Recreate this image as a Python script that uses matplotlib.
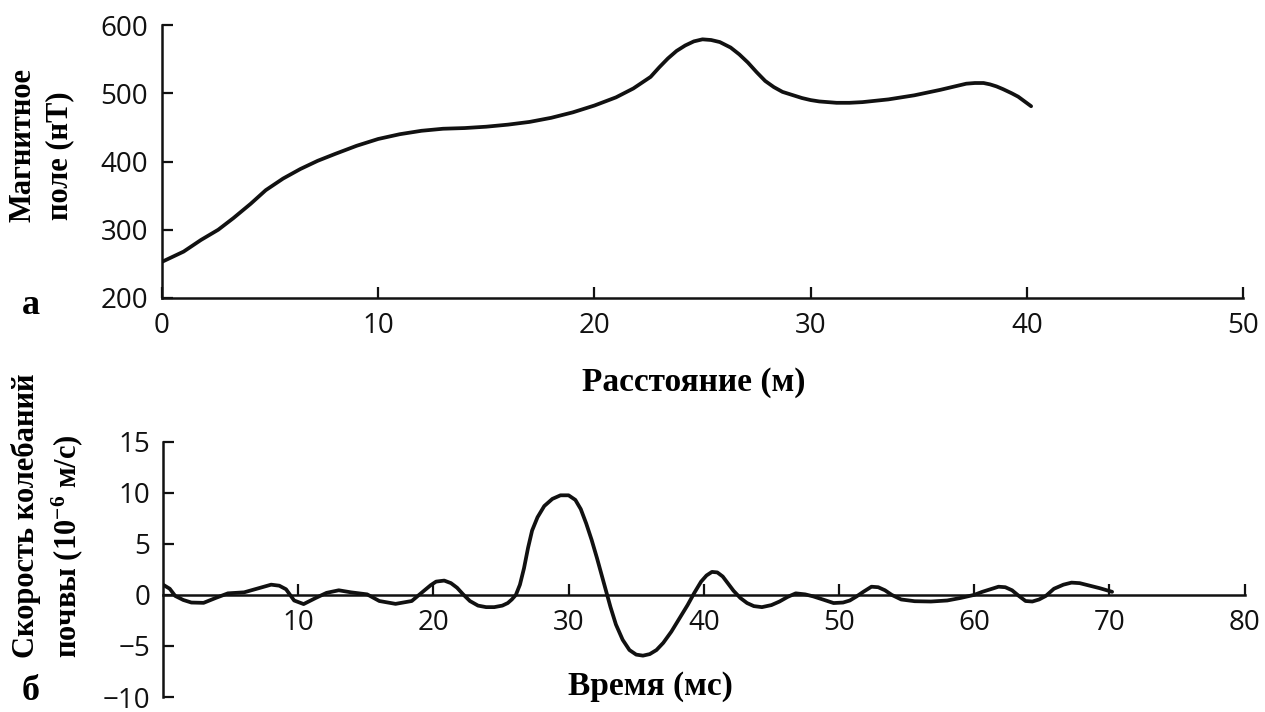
import matplotlib
matplotlib.use("Agg")
import matplotlib.pyplot as plt

# ---- data ----
dist_m = [0, 1.0, 1.8, 2.6, 3.3, 4.1, 4.8, 5.6, 6.4, 7.2, 8.0, 9.0, 10.0, 11.0, 12.0,
          13.0, 14.0, 15.0, 16.0, 17.0, 18.0, 19.0, 20.0, 21.0, 21.8, 22.6, 23.0, 23.4,
          23.8, 24.2, 24.6, 25.0, 25.4, 25.8, 26.3, 26.7, 27.1, 27.5, 27.9, 28.3, 28.7,
          29.2, 29.6, 30.0, 30.4, 30.8, 31.2, 31.8, 32.4, 33.0, 33.6,
          34.2, 34.8, 35.4, 36.0, 36.4, 36.8, 37.2, 37.6, 38.0, 38.3, 38.6, 38.9, 39.3,
          39.6, 39.9, 40.2]
mag_nT = [253, 268, 285, 300, 317, 338, 358, 375, 389, 401, 411, 423, 433, 440, 445,
          448, 449, 451, 454, 458, 464, 472, 482, 494, 507, 524, 538, 551,
          562, 570, 576, 579, 578, 575, 567, 557, 545, 531, 518, 509, 502,
          497, 493, 490, 488, 487, 486, 486, 487, 489, 491,
          494, 497, 501, 505, 508, 511, 514, 515, 515, 513, 510, 506, 500,
          495, 488, 481]

time_ms = [0, 0.5, 0.9, 1.5, 2.1, 3.0, 3.9, 4.8, 6.0, 7.2, 8.0, 8.6, 9.1, 9.7, 10.4,
           11.3, 12.1, 13.0, 13.9, 15.1, 16.0, 17.2, 18.4, 19.3, 19.8, 20.2, 20.8, 21.3,
           21.75, 22.2, 22.7, 23.3, 23.9, 24.5, 25.1, 25.5, 25.8, 26.1, 26.4, 26.7,
           27.0, 27.3, 27.7, 28.2, 28.8, 29.4, 30.0, 30.5, 30.9, 31.3, 31.7, 32.1,
           32.6, 33.1, 33.5, 34.0, 34.5, 35.0, 35.5, 36.0, 36.5, 37.0, 37.6, 38.2,
           38.8, 39.3, 39.8, 40.2, 40.6, 41.0, 41.4, 41.8, 42.2, 42.7, 43.2, 43.7,
           44.3, 45.0, 45.6, 46.2, 46.8, 47.5, 48.1, 48.8, 49.6, 50.3, 50.8, 51.3,
           51.8, 52.4, 52.9, 53.4, 53.9, 54.6, 55.6, 56.8, 58.0, 59.0, 60.0, 60.6,
           61.2, 61.8, 62.3, 62.8, 63.3, 63.8, 64.3, 64.8, 65.3, 65.9, 66.6, 67.2,
           67.8, 68.4, 69.3, 70.2]
speed = [1.0, 0.6, -0.1, -0.5, -0.75, -0.78, -0.3, 0.15, 0.25, 0.7, 1.0, 0.9, 0.55, -0.55, -0.9,
         -0.3, 0.2, 0.45, 0.25, 0.05, -0.6, -0.88, -0.6, 0.4, 0.95, 1.3, 1.4, 1.15,
         0.7, 0.05, -0.6, -1.05, -1.2, -1.2, -1.05, -0.8, -0.45, 0.0, 1.0, 2.6,
         4.6, 6.3, 7.6, 8.7, 9.4, 9.75, 9.75, 9.3, 8.4, 7.0, 5.4, 3.6,
         1.2, -1.2, -2.9, -4.4, -5.4, -5.85, -5.95, -5.8, -5.4, -4.7, -3.6, -2.3,
         -1.0, 0.2, 1.3, 1.9, 2.25, 2.2, 1.8, 1.1, 0.4, -0.3, -0.8, -1.1,
         -1.2, -1.0, -0.65, -0.2, 0.15, 0.05, -0.15, -0.45, -0.8, -0.75, -0.55, -0.15,
         0.3, 0.8, 0.75, 0.45, 0.0, -0.45, -0.62, -0.65, -0.55, -0.3, 0.0, 0.3,
         0.55, 0.8, 0.75, 0.45, -0.1, -0.6, -0.65, -0.45, -0.1, 0.6, 1.0, 1.2,
         1.15, 0.95, 0.65, 0.3]

top_xticks = [0, 10, 20, 30, 40, 50]
top_yticks = [200, 300, 400, 500, 600]
bot_xticks = [10, 20, 30, 40, 50, 60, 70, 80]
bot_yticks = [-10, -5, 0, 5, 10, 15]

# ---- style ----
plt.rcParams['font.family'] = ['Open Sans', 'DejaVu Sans']
plt.rcParams['mathtext.fontset'] = 'custom'
plt.rcParams['mathtext.rm'] = 'Liberation Serif:bold'
plt.rcParams['mathtext.it'] = 'Liberation Serif:bold'
plt.rcParams['mathtext.bf'] = 'Liberation Serif:bold'

serif = dict(family=['Liberation Serif', 'DejaVu Serif'], fontweight='bold')
tick_fs = 20
xlab_fs = 24
ylab_fs = 22
ink = '#111111'

fig = plt.figure(figsize=(12.65, 7.12), dpi=100)

# top panel
ax1 = fig.add_axes([162 / 1265, 1 - 298 / 712, (1243 - 162) / 1265, (298 - 25) / 712])
ax1.plot(dist_m, mag_nT, color=ink, lw=2.7, solid_joinstyle='round', solid_capstyle='round')
ax1.set_xlim(0, 50)
ax1.set_ylim(200, 600)
ax1.set_xticks(top_xticks)
ax1.set_yticks(top_yticks)
for s in ['top', 'right']:
    ax1.spines[s].set_visible(False)
for s in ['left', 'bottom']:
    ax1.spines[s].set_linewidth(1.8)
    ax1.spines[s].set_color(ink)
ax1.tick_params(axis='both', direction='in', length=8, width=1.6, colors=ink,
                labelsize=tick_fs)
ax1.tick_params(axis='x', pad=10)
ax1.tick_params(axis='y', pad=10)

# bottom panel
ax2 = fig.add_axes([163 / 1265, 1 - 697 / 712, (1244.6 - 163) / 1265, (697 - 441.7) / 712])
ax2.plot(time_ms, speed, color=ink, lw=2.7, solid_joinstyle='round', solid_capstyle='round')
ax2.set_xlim(0, 80)
ax2.set_ylim(-10, 15)
ax2.set_xticks(bot_xticks)
ax2.set_yticks(bot_yticks)
for s in ['top', 'right']:
    ax2.spines[s].set_visible(False)
ax2.spines['bottom'].set_position(('data', 0))
for s in ['left', 'bottom']:
    ax2.spines[s].set_linewidth(1.8)
    ax2.spines[s].set_color(ink)
ax2.tick_params(axis='both', direction='in', length=8, width=1.6, colors=ink,
                labelsize=tick_fs)
ax2.tick_params(axis='x', pad=10)
ax2.tick_params(axis='y', pad=9)

# labels
fig.text(694 / 1265, 1 - 383 / 712, 'Расстояние (м)', ha='center', va='center',
         fontsize=xlab_fs, **serif)
fig.text(650 / 1265, 1 - 687 / 712, 'Время (мс)', ha='center', va='center',
         fontsize=xlab_fs, **serif)
fig.text(31 / 1265, 1 - 306 / 712, 'а', ha='center', va='center', fontsize=26, **serif)
fig.text(31 / 1265, 1 - 692 / 712, 'б', ha='center', va='center', fontsize=26, **serif)

fig.text(23 / 1265, 1 - 222 / 712, 'Магнитное', rotation=90, ha='center', va='bottom',
         fontsize=ylab_fs, **serif)
fig.text(60 / 1265, 1 - 220 / 712, 'поле (нТ)', rotation=90, ha='center', va='bottom',
         fontsize=ylab_fs, **serif)
fig.text(26 / 1265, 1 - 658 / 712, 'Скорость колебаний', rotation=90, ha='center',
         va='bottom', fontsize=ylab_fs, **serif)
fig.text(67 / 1265, 1 - 658 / 712, 'почвы (10$^{-6}$ м/с)', rotation=90, ha='center',
         va='bottom', fontsize=ylab_fs, **serif)

fig.savefig('out.png', dpi=100)
